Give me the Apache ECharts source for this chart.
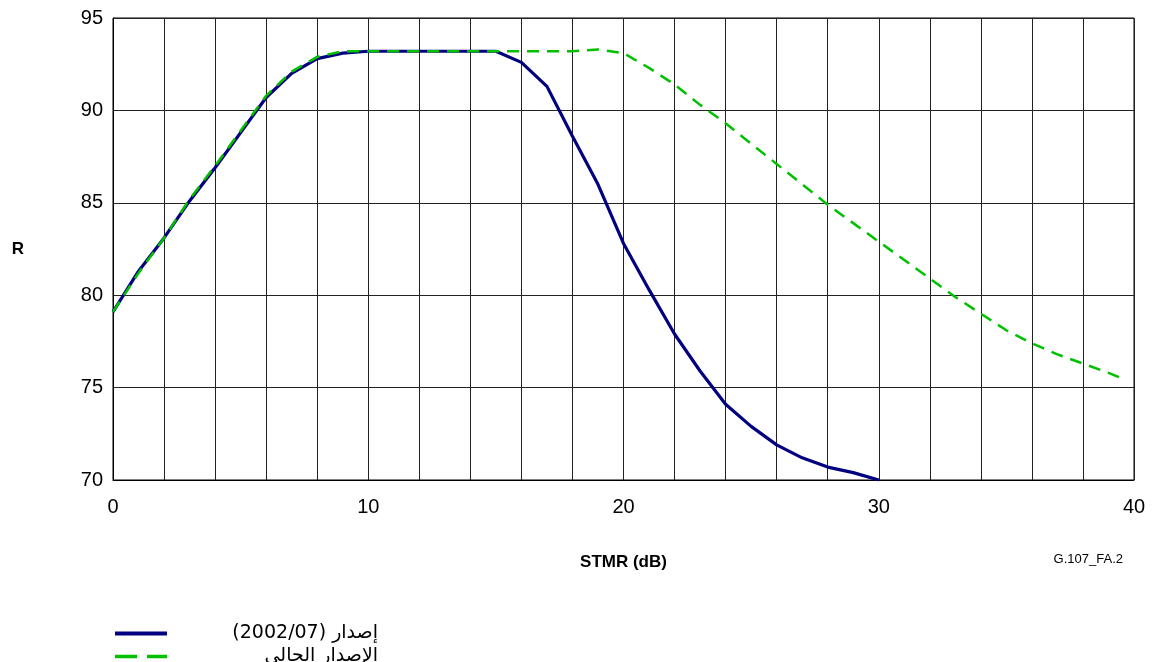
<!DOCTYPE html>
<html>
<head>
<meta charset="utf-8">
<script src="https://cdn.jsdelivr.net/npm/echarts@6/dist/echarts.min.js"></script>
<style>
  html, body { margin: 0; padding: 0; background: #fff; }
  #chart { width: 1157px; height: 662px; }
</style>
</head>
<body>
<div id="chart"></div>
<script>
// STMR (dB) sample points
const stmrOld = [0, 1, 2, 3, 4, 5, 6, 7, 8, 9, 10, 11, 12, 13, 14, 15, 16, 17, 18, 19, 20, 21, 22, 23, 24, 25, 26, 27, 28, 29, 30];
const rOld = [79.1, 81.3, 83.1, 85.1, 86.9, 88.8, 90.7, 92.0, 92.8, 93.1, 93.2, 93.2, 93.2, 93.2, 93.2, 93.2, 92.6, 91.3, 88.6, 86.0, 82.8, 80.3, 77.9, 75.9, 74.1, 72.9, 71.9, 71.2, 70.7, 70.4, 70.0];

const stmrNew = [0, 1, 2, 3, 4, 5, 6, 7, 8, 9, 10, 11, 12, 13, 14, 15, 16, 17, 18, 19, 20, 21, 22, 23, 24, 25, 26, 27, 28, 29, 30, 31, 32, 33, 34, 35, 36, 37, 38, 39, 39.7];
const rNew = [79.1, 81.2, 83.1, 85.2, 87.0, 88.9, 90.8, 92.1, 92.9, 93.2, 93.2, 93.2, 93.2, 93.2, 93.2, 93.2, 93.2, 93.2, 93.2, 93.3, 93.1, 92.3, 91.4, 90.3, 89.3, 88.2, 87.1, 86.0, 84.9, 83.9, 82.9, 81.9, 80.9, 79.9, 79.0, 78.1, 77.4, 76.8, 76.3, 75.8, 75.4];

const nameOld = '(2002/07) إصدار';
const nameNew = 'الإصدار الحالي';

const myChart = echarts.init(document.getElementById('chart'), null, { renderer: 'canvas' });

myChart.setOption({
  animation: false,
  backgroundColor: '#fff',
  textStyle: { fontFamily: 'Liberation Sans, Arial, sans-serif' },
  grid: {
    left: 113,
    right: 23,
    top: 18,
    bottom: 182,
    show: true,
    borderColor: '#000',
    borderWidth: 1
  },
  legend: {
    orient: 'vertical',
    left: 113,
    top: 624,
    height: 80,
    padding: 0,
    itemWidth: 52,
    itemHeight: 14,
    itemGap: 4,
    itemStyle: { opacity: 0 },
    data: [
      { name: nameOld, lineStyle: { width: 4 } },
      { name: nameNew, lineStyle: { width: 3.5, type: [22, 10] } }
    ],
    formatter: function(name) {
      return '{a|' + name + '}';
    },
    textStyle: {
      rich: {
        a: {
          width: 206,
          align: 'right',
          fontSize: 19,
          lineHeight: 20,
          fontFamily: 'DejaVu Sans, Noto Sans, sans-serif',
          color: '#000'
        }
      }
    }
  },
  xAxis: {
    type: 'value',
    min: 0,
    max: 40,
    interval: 2,
    name: 'STMR (dB)',
    nameLocation: 'middle',
    nameGap: 74,
    nameTextStyle: { fontSize: 17, fontWeight: 'bold', color: '#000' },
    axisLine: { show: true, lineStyle: { color: '#000', width: 1 } },
    axisTick: { show: false },
    splitLine: { show: true, lineStyle: { color: '#222', width: 1 } },
    axisLabel: {
      margin: 17,
      fontSize: 20,
      color: '#000',
      formatter: function(v) {
        return v % 10 === 0 ? String(v) : '';
      }
    }
  },
  yAxis: {
    type: 'value',
    min: 70,
    max: 95,
    interval: 5,
    name: 'R',
    nameLocation: 'middle',
    nameRotate: 0,
    nameGap: 89,
    nameTextStyle: { fontSize: 17, fontWeight: 'bold', color: '#000' },
    axisLine: { show: true, lineStyle: { color: '#000', width: 1 } },
    axisTick: { show: false },
    splitLine: { show: true, lineStyle: { color: '#222', width: 1 } },
    axisLabel: { margin: 10, fontSize: 20, color: '#000' }
  },
  graphic: [
    {
      type: 'text',
      right: 34,
      top: 553,
      style: {
        text: 'G.107_FA.2',
        fontSize: 13,
        fontFamily: 'Liberation Sans, Arial, sans-serif',
        fill: '#000'
      }
    }
  ],
  series: [
    {
      name: nameOld,
      type: 'line',
      symbol: 'none',
      z: 3,
      lineStyle: { color: '#000080', width: 3.2 },
      itemStyle: { color: '#000080' },
      data: stmrOld.map((x, i) => [x, rOld[i]])
    },
    {
      name: nameNew,
      type: 'line',
      symbol: 'none',
      z: 4,
      lineStyle: { color: '#00c000', width: 2.5, type: [12, 8] },
      itemStyle: { color: '#00c000' },
      data: stmrNew.map((x, i) => [x, rNew[i]])
    }
  ]
});
</script>
</body>
</html>
